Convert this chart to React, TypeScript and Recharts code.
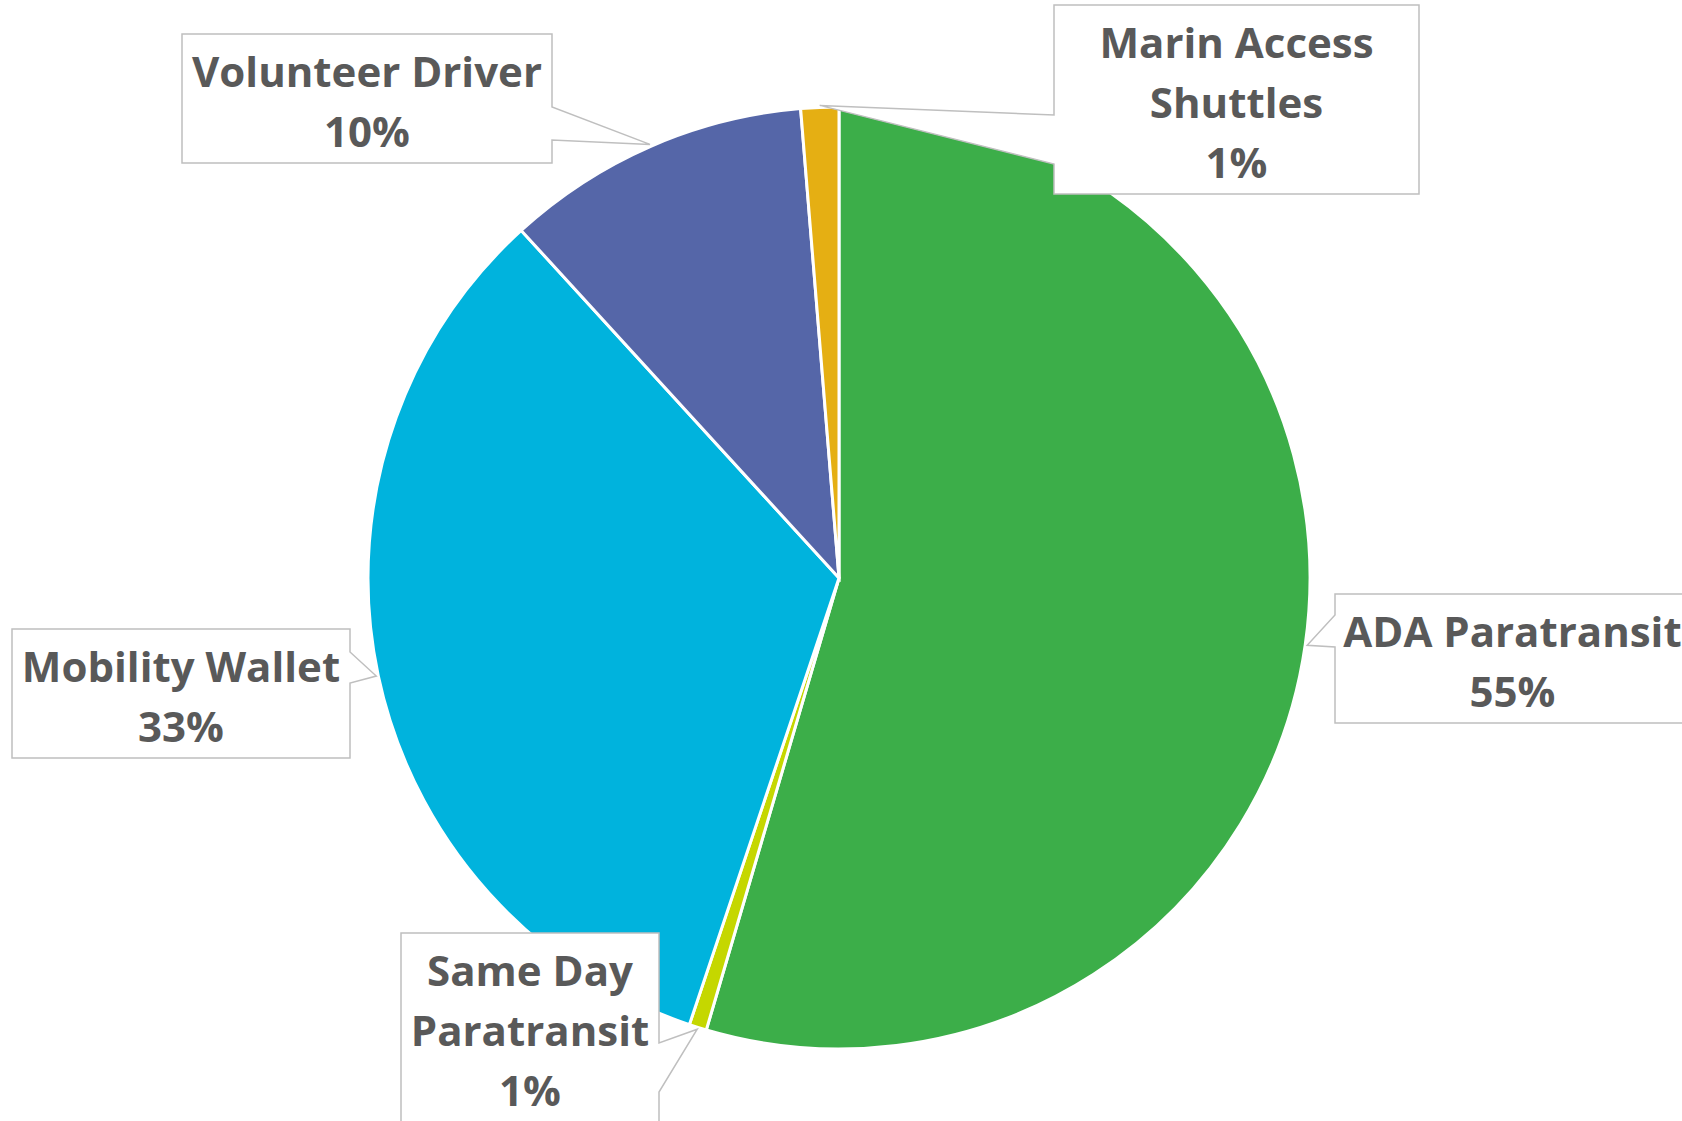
import React from "react";
import { PieChart, Pie, Cell } from "recharts";

const categories = [
  "ADA Paratransit",
  "Same Day Paratransit",
  "Mobility Wallet",
  "Volunteer Driver",
  "Marin Access Shuttles",
];
const shares = [54.6, 0.6, 33.1, 10.5, 1.3];
const colors = ["#3CAE49", "#C5D700", "#00B3DD", "#5566A8", "#E5AF13"];

const data = categories.map((name, i) => ({ name, value: shares[i] }));

// callout boxes (Excel style), one per slice in the same order
const callouts = [
  { x: 1335, y: 594, w: 355, side: "left", y1: 615, y2: 647, wrap: false },
  { x: 401, y: 933, w: 258, side: "right", y1: 1043, y2: 1092, wrap: true },
  { x: 12, y: 629, w: 338, side: "right", y1: 652, y2: 683, wrap: false },
  { x: 182, y: 34, w: 370, side: "right", y1: 107, y2: 140, wrap: false },
  { x: 1054, y: 5, w: 365, side: "left", y1: 115, y2: 164, wrap: true },
];

const LINE = 60;
const RAD = Math.PI / 180;

function CalloutLabel(props: any) {
  const { cx, cy, midAngle, outerRadius, percent, index } = props;
  const c = callouts[index];
  const name = categories[index];
  const tx = cx + (outerRadius + 2) * Math.cos(-midAngle * RAD);
  const ty = cy + (outerRadius + 2) * Math.sin(-midAngle * RAD);
  const sp = name.lastIndexOf(" ");
  const lines = c.wrap ? [name.slice(0, sp), name.slice(sp + 1)] : [name];
  lines.push(`${Math.round(percent * 100)}%`);
  const h = LINE * lines.length + 9;
  const { x, y, w } = c;
  const d =
    c.side === "right"
      ? `M${x},${y} H${x + w} V${c.y1} L${tx},${ty} L${x + w},${c.y2} V${y + h} H${x} Z`
      : `M${x},${y} H${x + w} V${y + h} H${x} V${c.y2} L${tx},${ty} L${x},${c.y1} Z`;
  return (
    <g>
      <path d={d} fill="#fff" stroke="#BFBFBF" strokeWidth={1.5} />
      {lines.map((t, i) => (
        <text
          key={i}
          x={x + w / 2}
          y={y + 36.5 + LINE * i}
          textAnchor="middle"
          dominantBaseline="central"
          fontFamily="'Open Sans', 'Noto Sans', sans-serif"
          fontWeight={700}
          fontSize={42}
          fill="#595959"
        >
          {t}
        </text>
      ))}
    </g>
  );
}

export default function App() {
  return (
    <div style={{ position: "absolute", left: 0, top: 0, background: "#fff" }}>
      <PieChart width={1682} height={1121} margin={{ top: 0, right: 0, bottom: 0, left: 0 }}>
        <Pie
          data={data}
          dataKey="value"
          nameKey="name"
          cx={839}
          cy={578}
          outerRadius={471}
          startAngle={90}
          endAngle={-270}
          stroke="#fff"
          strokeWidth={3}
          label={CalloutLabel}
          labelLine={false}
          isAnimationActive={false}
        >
          {data.map((d, i) => (
            <Cell key={d.name} fill={colors[i]} />
          ))}
        </Pie>
      </PieChart>
    </div>
  );
}
